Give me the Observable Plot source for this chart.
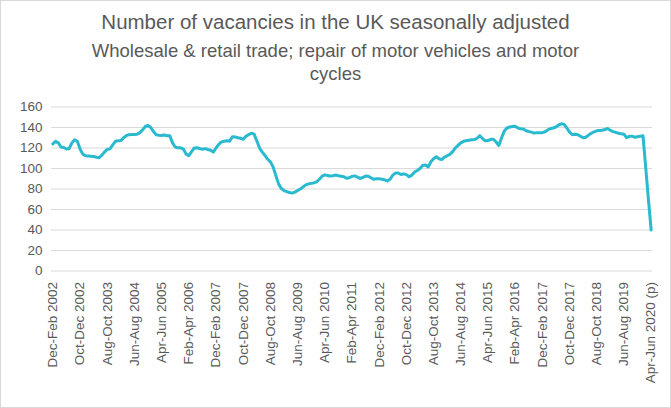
<!DOCTYPE html>
<html>
<head>
<meta charset="utf-8">
<script src="https://cdn.jsdelivr.net/npm/d3@7"></script>
<script src="https://cdn.jsdelivr.net/npm/@observablehq/plot@0.6"></script>
<style>
  html, body { margin: 0; padding: 0; background: #fff; }
  #wrap { width: 671px; height: 408px; box-sizing: border-box; border: 1px solid #d9d9d9; background: #fff; overflow: hidden; }
  #head { height: 94px; font-family: "Liberation Sans", Arial, sans-serif; color: #595959; text-align: center; }
  #title { padding-top: 9px; font-size: 20.5px; line-height: 24px; height: 24px; }
  #subtitle { margin-top: 5px; font-size: 18.5px; line-height: 23px; }
</style>
</head>
<body>
<div id="wrap">
  <div id="head">
    <div id="title">Number of vacancies in the UK seasonally adjusted</div>
    <div id="subtitle">Wholesale &amp; retail trade; repair of motor vehicles and motor<br>cycles</div>
  </div>
  <div id="chart"></div>
</div>
<script>
// Vacancies (thousands), rolling 3-month periods from Dec-Feb 2002 to Apr-Jun 2020 (p)
const values = [
  124, 126.5, 125, 121, 120.5, 119, 119.5, 125, 128, 126.5,
  119, 114, 112.5, 112.3, 112, 111.8, 111, 110.5, 113, 116,
  118.8, 119, 123, 126.5, 127, 127.2, 130, 132, 133, 133.2,
  133.2, 133.5, 135, 137.7, 141, 142, 140, 136, 133, 132.5,
  132.3, 132.7, 132, 132, 125, 121, 120.3, 120.2, 119, 114,
  112.5, 116.5, 120, 120.3, 119.5, 118.8, 119.4, 118.5, 117.8, 116,
  120, 123.5, 126, 126.5, 127, 126.5, 131, 130.8, 130, 129.5,
  128.5, 131.5, 133, 134.4, 133.5, 127, 120, 116, 112.7, 109,
  106.5, 101.5, 93, 85, 80.5, 78.5, 77.5, 76.5, 76, 77,
  78.5, 80, 82, 84, 85, 85.5, 86, 87, 89.5, 92.5,
  93.8, 93.2, 92.6, 93, 93.6, 93, 92.5, 92, 90.5, 91,
  92.3, 92.8, 91.6, 90.3, 91.2, 92.7, 92.5, 90.9, 89.5, 90,
  90, 89.5, 89, 87.8, 89.5, 93.5, 95.5, 95.5, 94.1, 94.8,
  94, 92, 93.5, 96.5, 98, 100, 103, 103.5, 101.5, 106.5,
  109.5, 111.5, 109.5, 108.7, 111.2, 112.4, 113.8, 116.5, 120, 122.5,
  125, 126.5, 127, 127.5, 128, 128.2, 129.5, 132, 129.2, 127,
  127.3, 128.5, 128.5, 125.8, 122.5, 130, 136.5, 139.5, 140.5, 141,
  141.3, 139.5, 138.8, 138.5, 136.8, 136.1, 135.5, 134.5, 135, 135,
  135, 135.8, 137.7, 139, 139.5, 140.5, 142.5, 143.6, 143, 139.5,
  135.5, 133, 133.5, 133, 131.5, 130, 130.5, 132.6, 134.4, 135.8,
  136.8, 137.1, 137.3, 138, 139, 137.2, 136, 135.2, 134.4, 133.8,
  133.5, 130, 131.5, 131.5, 130.5, 131, 131.5, 132, 101, 70,
  40
];

const monthNames = ["Jan","Feb","Mar","Apr","May","Jun","Jul","Aug","Sep","Oct","Nov","Dec"];
const firstEndYear = 2002, firstEndMonth = 1; // Feb 2002
const provisionalSuffix = " (p)";
const yTicks = [0, 20, 40, 60, 80, 100, 120, 140, 160];
const tickEvery = 10;

const periods = values.map((v, i) => {
  const m = firstEndMonth + i;
  const endM = ((m % 12) + 12) % 12;
  const endY = firstEndYear + Math.floor(m / 12);
  const startM = (endM + 10) % 12;
  let label = `${monthNames[startM]}-${monthNames[endM]} ${endY}`;
  if (i === values.length - 1) label += provisionalSuffix;
  return label;
});
const data = values.map((v, i) => ({period: periods[i], value: v}));
const xTicks = periods.filter((p, i) => i % tickEvery === 0);

const chart = Plot.plot({
  width: 669,
  height: 312,
  marginLeft: 50,
  marginRight: 18,
  marginTop: 11.5,
  marginBottom: 136.5,
  style: { fontFamily: "'Liberation Sans', Arial, sans-serif", fontSize: "13px", color: "#595959", background: "transparent" },
  x: { type: "point", domain: periods, padding: 0.5 },
  y: { domain: [0, 160] },
  marks: [
    Plot.gridY(yTicks, { stroke: "#d9d9d9", strokeOpacity: 1, strokeWidth: 1 }),
    Plot.axisY({ ticks: yTicks, tickSize: 0, tickPadding: 9, label: null, fontSize: 13.5 }),
    Plot.axisX({ ticks: xTicks, tickSize: 0, tickPadding: 11, tickRotate: -90, label: null, fontSize: 13.5 }),
    Plot.lineY(data, { x: "period", y: "value", stroke: "#2ABACF", strokeWidth: 3, strokeLinejoin: "round", curve: "linear" })
  ]
});
document.getElementById("chart").appendChild(chart);
</script>
</body>
</html>
